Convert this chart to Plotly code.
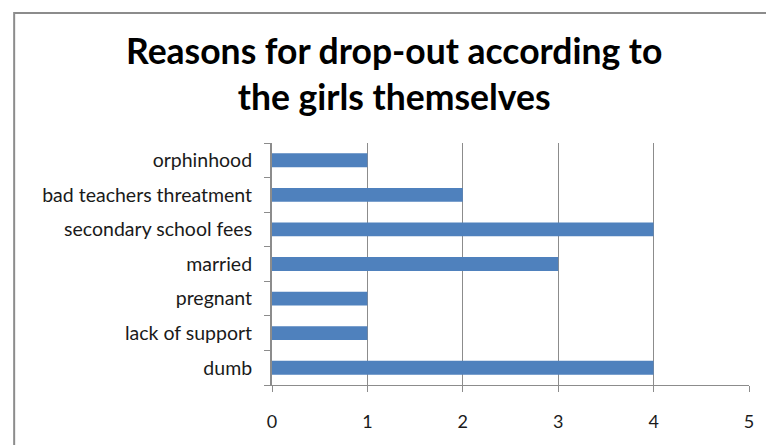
import plotly.graph_objects as go

categories = ["dumb", "lack of support", "pregnant", "married",
              "secondary school fees", "bad teachers threatment", "orphinhood"]
values = [4, 1, 1, 3, 4, 2, 1]
title_text = "<b>Reasons for drop-out according to<br>the girls themselves</b>"
x_ticks = [0, 1, 2, 3, 4, 5]

L, R, T, B = 272, 13, 143, 60
W, H = 766, 445
pw, ph = W - L - R, H - T - B

def px_x(px):
    return (px - L) / pw

def px_y(py):
    return (H - B - py) / ph

fig = go.Figure(go.Bar(
    y=categories, x=values, orientation="h",
    marker=dict(color="#4F81BD", line=dict(width=0)),
))

grid = "#8C8C8C"
fig.update_layout(
    width=W, height=H,
    margin=dict(l=L, r=R, t=T, b=B),
    paper_bgcolor="white", plot_bgcolor="white",
    bargap=0.6,
    showlegend=False,
    font=dict(family="Lato, Open Sans, sans-serif", size=19, color="#1a1a1a"),
    xaxis=dict(range=[0, 5], tickvals=x_ticks, showgrid=True, gridcolor=grid, gridwidth=1,
               showline=True, linecolor=grid, linewidth=1, ticks="outside", ticklen=6,
               tickcolor=grid, zeroline=False, tickfont=dict(size=18), ticklabelstandoff=14),
    yaxis=dict(type="category", categoryorder="array", categoryarray=categories,
               tickson="boundaries", ticks="outside", ticklen=6, tickcolor=grid,
               showline=True, linecolor=grid, linewidth=2, showgrid=False,
               tickfont=dict(size=19.5), ticklabelstandoff=14),
    shapes=[dict(type="rect", xref="paper", yref="paper",
                 x0=px_x(12), x1=px_x(800), y0=px_y(460), y1=px_y(13),
                 line=dict(color="#8C8C8C", width=2), fillcolor="rgba(0,0,0,0)", layer="below")],
    annotations=[dict(text=title_text, xref="paper", yref="paper",
                      x=px_x(395), y=px_y(73), xanchor="center", yanchor="middle",
                      showarrow=False, font=dict(size=35.5, color="black",
                                                 family="Lato, Open Sans, sans-serif"),
                      align="center")],
)

fig.write_html("out.html")
